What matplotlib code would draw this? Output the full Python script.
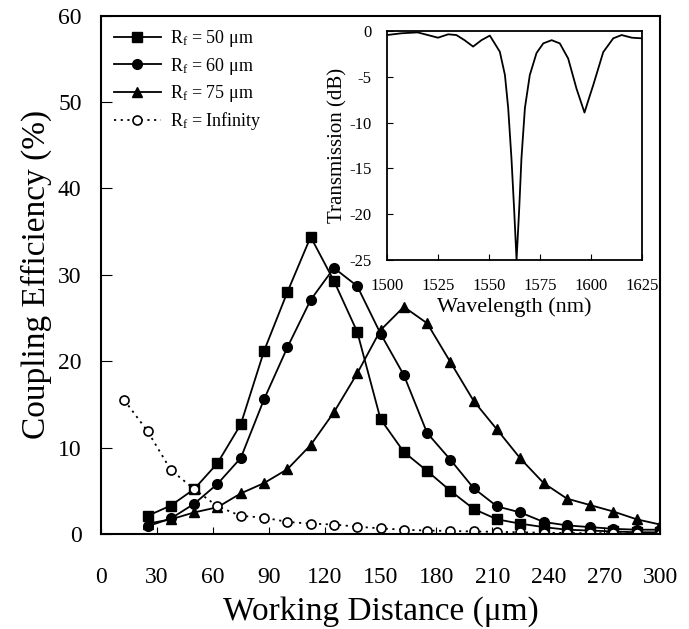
import matplotlib
matplotlib.use("Agg")
import matplotlib.pyplot as plt
import numpy as np

plt.rcParams['font.family'] = ['Liberation Serif', 'DejaVu Serif']
plt.rcParams['mathtext.fontset'] = 'custom'
plt.rcParams['mathtext.rm'] = 'Liberation Serif'
plt.rcParams['mathtext.it'] = 'Liberation Serif:italic'

# working distance (um)
dist = [25, 37.5, 50, 62.5, 75, 87.5, 100, 112.5, 125, 137.5, 150, 162.5, 175,
        187.5, 200, 212.5, 225, 237.5, 250, 262.5, 275, 287.5, 300]
dist_inf = [12.5] + dist

# coupling efficiency (%)
eff_50 = [2.1, 3.3, 5.2, 8.2, 12.7, 21.2, 28.0, 34.4, 29.3, 23.4, 13.3, 9.5, 7.3,
          5.0, 2.9, 1.7, 1.2, 0.8, 0.5, 0.4, 0.3, 0.2, 0.2]
eff_60 = [0.9, 1.8, 3.5, 5.8, 8.8, 15.6, 21.6, 27.1, 30.8, 28.7, 23.2, 18.4, 11.7,
          8.6, 5.3, 3.2, 2.5, 1.4, 1.0, 0.8, 0.6, 0.5, 0.5]
eff_75 = [1.2, 1.7, 2.5, 3.1, 4.7, 5.9, 7.5, 10.3, 14.1, 18.6, 23.6, 26.3, 24.4,
          19.9, 15.4, 12.1, 8.75, 5.9, 4.1, 3.35, 2.6, 1.7, 1.1]
eff_inf = [15.5, 11.9, 7.4, 5.2, 3.2, 2.1, 1.9, 1.4, 1.2, 1.1, 0.85, 0.65, 0.5, 0.4,
           0.35, 0.3, 0.25, 0.2, 0.15, 0.12, 0.1, 0.1, 0.08, 0.05]

# inset: transmission spectrum
wl = [1500, 1507, 1515, 1520, 1525, 1530, 1534, 1538, 1542.2, 1546.3, 1550.4,
      1555.3, 1557.8, 1559.4, 1561.0, 1562.3, 1563.5, 1564.8, 1565.9, 1567.6,
      1570, 1573.3, 1576.6, 1580.7, 1584.7, 1588.8, 1592.9, 1596.8, 1599.5,
      1601.1, 1606, 1610.9, 1615, 1620, 1625]
trans = [-0.44, -0.25, -0.15, -0.44, -0.73, -0.36, -0.44, -1.0, -1.7, -1.0, -0.5,
         -2.26, -4.8, -8.4, -13.9, -19.4, -25.0, -19.4, -13.9, -8.4,
         -4.8, -2.4, -1.35, -1.0, -1.35, -3.0, -6.3, -8.9, -7.0,
         -5.9, -2.3, -0.8, -0.44, -0.73, -0.8]

fig = plt.figure(figsize=(6.89, 6.29), dpi=100)
ax = fig.add_axes([0.1466, 0.151, 0.8114, 0.824])

lw = 1.3
ax.plot(dist, eff_50, 'k-', marker='s', ms=7, lw=lw, label=r'R$_\mathrm{f}$ = 50 μm')
ax.plot(dist, eff_60, 'k-', marker='o', ms=7, lw=lw, label=r'R$_\mathrm{f}$ = 60 μm')
ax.plot(dist, eff_75, 'k-', marker='^', ms=7, lw=lw, label=r'R$_\mathrm{f}$ = 75 μm')
ax.plot(dist_inf, eff_inf, color='k', ls=(0, (1.2, 2.5)), marker='o', ms=6.5,
        mfc='white', mew=1.2, lw=lw, label=r'R$_\mathrm{f}$ = Infinity')

ax.set_xlim(0, 300)
ax.set_ylim(0, 60)
ax.set_xticks(np.arange(0, 301, 30))
ax.set_yticks(np.arange(0, 61, 10))
ax.tick_params(axis='x', direction='in', length=5, pad=24, labelsize=17)
ax.tick_params(axis='y', direction='in', length=8, pad=14, labelsize=17)
ax.set_xlabel('Working Distance (μm)', fontsize=24, labelpad=6)
ax.set_ylabel('Coupling Efficiency (%)', fontsize=24, labelpad=4)
for s in ax.spines.values():
    s.set_linewidth(1.5)

ax.legend(loc='upper left', frameon=False, fontsize=13, handlelength=2.6,
          labelspacing=0.35, borderaxespad=0.3, handletextpad=0.5,
          bbox_to_anchor=(0.0, 1.0))

ins = fig.add_axes([0.5617, 0.5866, 0.3701, 0.3641])
ins.plot(wl, trans, 'k-', lw=1.3)
ins.set_xlim(1500, 1625)
ins.set_ylim(-25, 0)
ins.set_xticks(np.arange(1500, 1626, 25))
ins.set_yticks(np.arange(-25, 1, 5))
ins.set_yticklabels([str(v) for v in range(-25, 1, 5)])
ins.tick_params(axis='x', direction='in', length=4, labelsize=12, pad=13)
ins.tick_params(axis='y', direction='in', length=4, labelsize=12, pad=11)
ins.set_xlabel('Wavelength (nm)', fontsize=16, labelpad=2)
ins.set_ylabel('Transmission (dB)', fontsize=15, labelpad=1)
for s in ins.spines.values():
    s.set_linewidth(1.3)

fig.savefig('out.png', dpi=100)
